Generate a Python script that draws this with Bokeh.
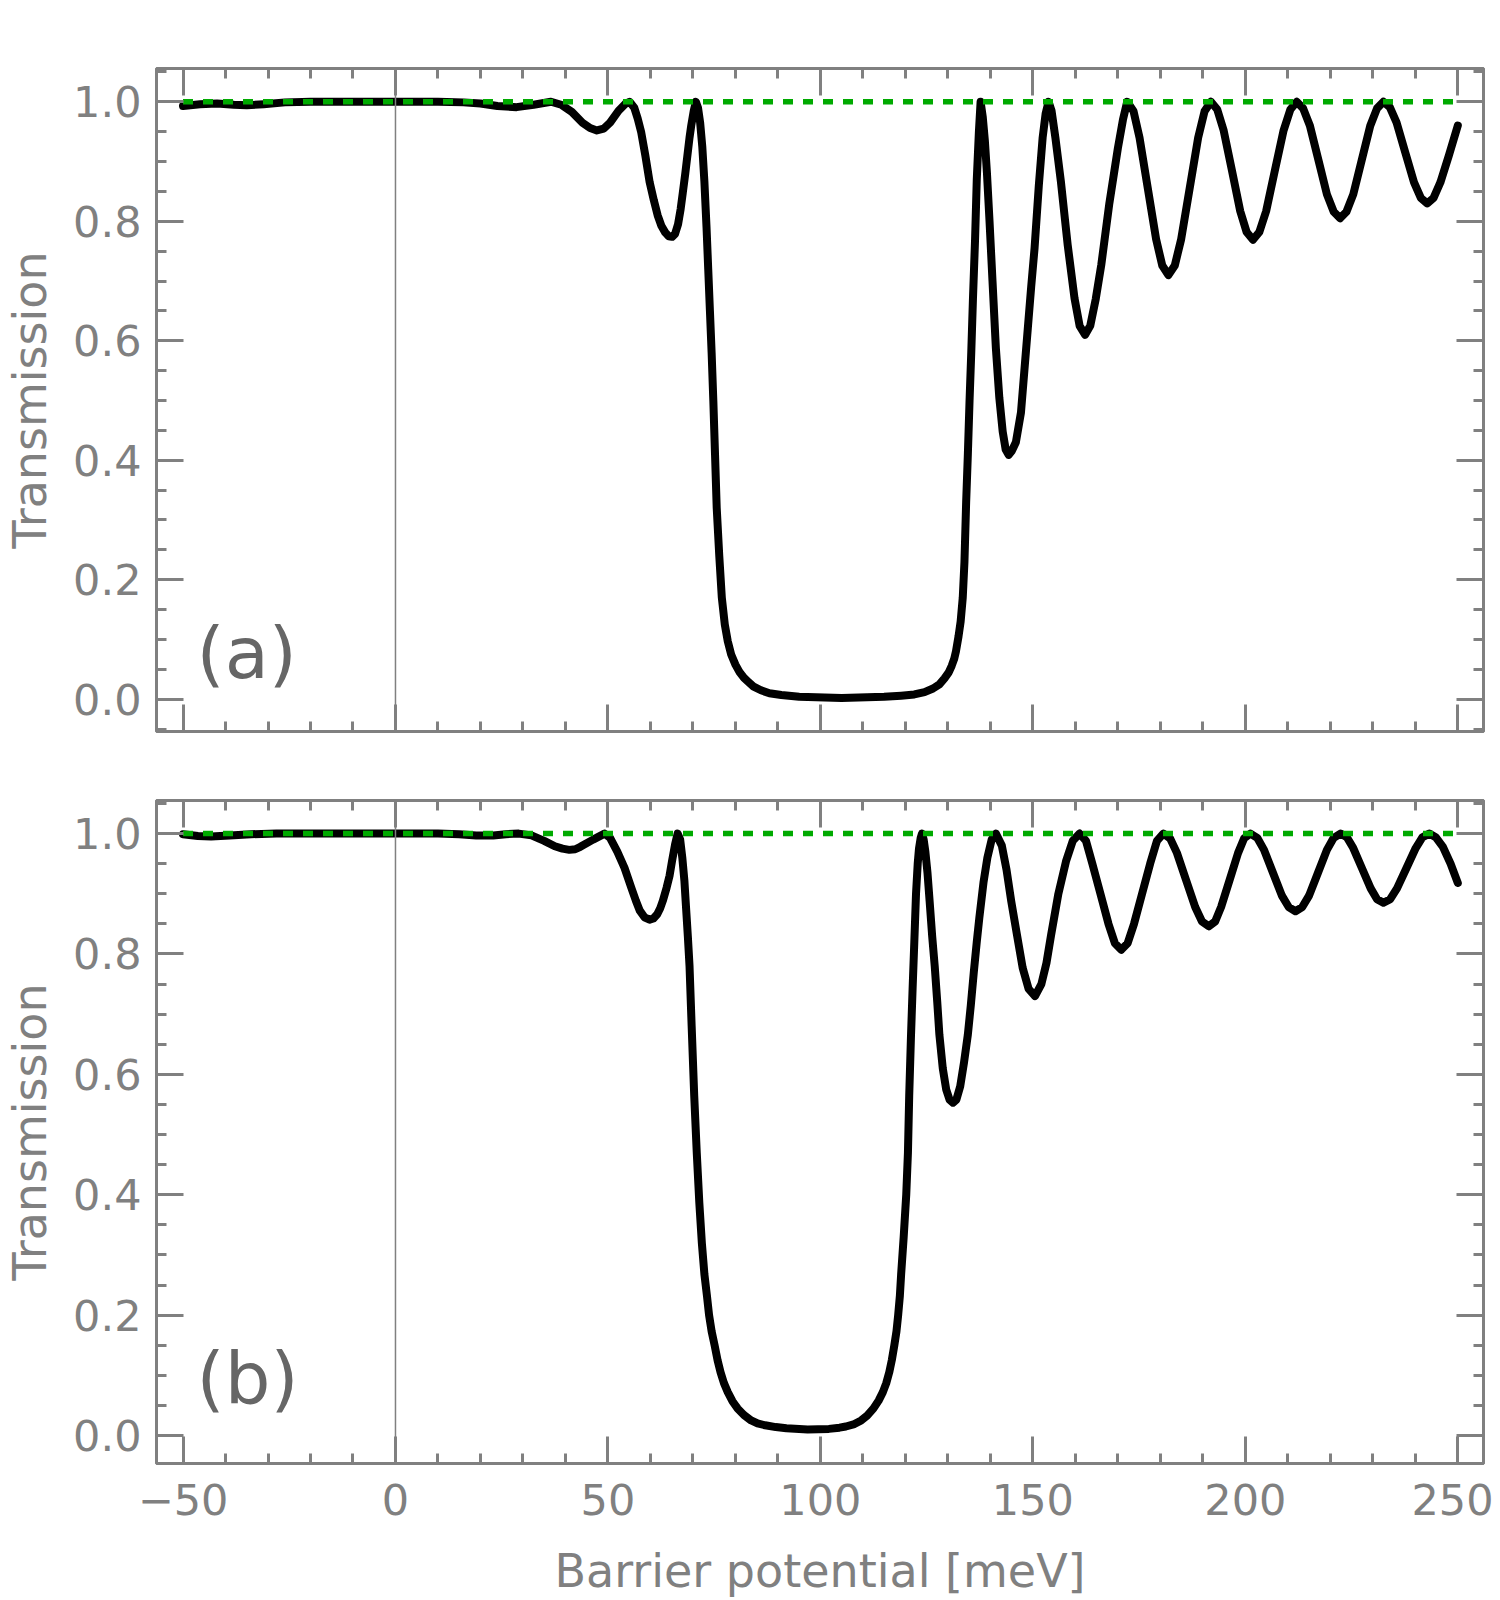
from bokeh.plotting import figure
from bokeh.models import (LinearAxis, SingleIntervalTicker, Span, PrintfTickFormatter,
                          Range1d, Label, CustomJSTickFormatter)
from bokeh.layouts import column
from bokeh.embed import file_html
from bokeh.resources import INLINE

# ---------------- data ----------------
# panel (a): barrier potential [meV] and transmission
x_a = [-50, -46, -42, -38, -35, -31, -26, -20, -10, 0, 10, 16, 20, 24, 28.5, 32.5, 36.6, 39,
       41.5, 44, 45.8, 47.4, 49, 50.5, 52.5, 54, 55.1, 56.2, 57.0, 57.8, 58.8, 59.8, 60.8,
       61.7, 62.6, 63.5, 64.3, 65.1, 65.8, 66.5, 67.1, 67.6, 68.2, 68.7, 69.2, 69.6, 70.2,
       70.7, 71.2, 71.7, 72.2, 72.7, 73.2, 73.6, 74.0, 74.4, 74.8, 75.2, 75.6, 76.2, 76.8,
       77.5, 78.2, 79.0, 80.0, 81.0, 82.0, 82.9, 84.3, 86.0, 88.0, 90.8, 95, 105, 115, 119,
       122.1, 124.5, 126.5, 128.0, 129.2, 130.2, 130.9, 131.5, 131.9, 132.5, 133.0, 133.5,
       133.9, 134.3, 134.7, 135.1, 135.5, 135.9, 136.4, 136.8, 137.3, 137.7, 138.2, 138.7,
       139.2, 139.8, 140.5, 141.3, 142.1, 142.9, 143.6, 144.3, 145.0, 146.0, 147.2, 148.0,
       148.8, 149.6, 150.4, 151.4, 152.3, 153.0, 153.7, 154.4, 155.3, 156.6, 158.2, 159.8,
       161.0, 162.3, 163.5, 164.8, 166.1, 168.0, 170.0, 171.2, 172.2, 173.7, 175.1, 177.05,
       179.0, 180.45, 181.9, 183.4, 184.9, 186.9, 188.9, 190.4, 191.9, 193.4, 194.9, 196.85,
       198.8, 200.3, 201.8, 203.3, 204.9, 206.95, 209.0, 210.6, 212.1, 213.6, 215.2, 217.2,
       219.2, 220.8, 222.3, 223.8, 225.4, 227.4, 229.4, 231.0, 232.5, 234.0, 235.6, 237.65,
       239.7, 241.3, 242.8, 244.3, 245.9, 247.9, 250]
t_a = [0.993, 0.996, 0.997, 0.995, 0.994, 0.996, 0.999, 1.0, 1.0, 1.0, 1.0, 0.999, 0.997,
       0.993, 0.991, 0.995, 1.0, 0.995, 0.983, 0.965, 0.956, 0.952, 0.955, 0.965, 0.985,
       0.996, 1.0, 0.99, 0.972, 0.95, 0.91, 0.866, 0.835, 0.81, 0.792, 0.781, 0.775, 0.774,
       0.779, 0.795, 0.82, 0.847, 0.88, 0.91, 0.94, 0.96, 0.985, 1.0, 0.99, 0.965, 0.925,
       0.866, 0.79, 0.72, 0.65, 0.58, 0.50, 0.41, 0.32, 0.24, 0.17, 0.125, 0.097, 0.075,
       0.058, 0.045, 0.036, 0.03, 0.021, 0.015, 0.01, 0.007, 0.004, 0.002, 0.004, 0.006,
       0.008, 0.012, 0.018, 0.025, 0.035, 0.045, 0.056, 0.068, 0.08, 0.105, 0.13, 0.17,
       0.23, 0.33, 0.41, 0.50, 0.58, 0.67, 0.77, 0.87, 0.95, 1.0, 0.975, 0.935, 0.88, 0.8,
       0.7, 0.587, 0.505, 0.448, 0.418, 0.409, 0.415, 0.43, 0.48, 0.55, 0.62, 0.69, 0.755,
       0.86, 0.94, 0.98, 1.0, 0.985, 0.94, 0.866, 0.76, 0.671, 0.625, 0.61, 0.625, 0.67,
       0.727, 0.83, 0.922, 0.97, 1.0, 0.984, 0.94, 0.855, 0.77, 0.726, 0.71, 0.726, 0.77,
       0.855, 0.94, 0.984, 1.0, 0.987, 0.952, 0.885, 0.817, 0.782, 0.769, 0.782, 0.817,
       0.885, 0.952, 0.987, 1.0, 0.989, 0.96, 0.9025, 0.845, 0.816, 0.805, 0.816, 0.845,
       0.9025, 0.96, 0.989, 1.0, 0.991, 0.965, 0.915, 0.865, 0.839, 0.83, 0.839, 0.865,
       0.91, 0.96]

# panel (b)
x_b = [-50, -46.5, -43.4, -39, -34, -28, -15, 0, 10, 15, 19, 23, 26, 29, 32, 35, 37.5, 39.3,
       40.9, 42.3, 43.5, 46.5, 49.2, 50.5, 52.2, 53.9, 55.5, 56.6, 57.5, 58.6, 59.8, 60.7,
       61.6, 62.3, 62.9, 63.8, 64.5, 65.1, 65.8, 66.4, 67.0, 67.5, 68.0, 68.4, 68.8, 69.2,
       69.7, 70.3, 70.9, 71.5, 72.1, 72.7, 73.3, 73.8, 74.4, 75.1, 75.8, 76.5, 77.3, 78.2,
       79.3, 80.5, 82.0, 83.7, 85.2, 87, 89.5, 92, 97.0, 102, 104.5, 106, 108, 109.6, 111,
       112.5, 113.7, 114.7, 115.5, 116.2, 116.8, 117.4, 117.9, 118.3, 118.7, 119.0, 119.6,
       120.2, 120.6, 120.9, 121.3, 121.7, 122.1, 122.5, 122.9, 123.2, 123.6, 123.9, 124.3,
       124.7, 125.2, 125.7, 126.3, 126.9, 127.5, 128.0, 128.8, 129.6, 130.4, 131.2, 132.0,
       132.9, 133.8, 134.7, 135.4, 136.1, 136.8, 137.4, 138.4, 139.3, 140.3, 141.3, 142.7,
       143.8, 144.9, 146.3, 147.6, 149.0, 150.5, 152.0, 153.2, 154.3, 156.0, 157.8, 159.4,
       161.0, 162.5, 164.0, 165.9, 167.8, 169.3, 170.8, 172.3, 173.8, 175.7, 177.6, 179.2,
       180.7, 182.3, 183.9, 186.05, 188.2, 189.8, 191.4, 192.9, 194.3, 196.3, 198.3, 199.7,
       201.2, 202.8, 204.4, 206.5, 208.6, 210.2, 211.8, 213.4, 215.0, 217.1, 219.2, 220.8,
       222.4, 223.9, 225.4, 227.45, 229.5, 231.0, 232.5, 234.1, 235.7, 237.9, 240.1, 241.7,
       243.3, 244.8, 246.5, 248.3, 250]
t_b = [0.999, 0.996, 0.995, 0.997, 0.999, 1.0, 1.0, 1.0, 1.0, 0.999, 0.997, 0.997, 0.999, 1.0,
       0.997, 0.988, 0.979, 0.975, 0.973, 0.974, 0.978, 0.99, 1.0, 0.993, 0.97, 0.943, 0.91,
       0.888, 0.872, 0.861, 0.857, 0.859, 0.866, 0.876, 0.888, 0.91, 0.93, 0.955, 0.982,
       1.0, 0.99, 0.96, 0.921, 0.875, 0.83, 0.78, 0.68, 0.565, 0.47, 0.387, 0.32, 0.268,
       0.232, 0.20, 0.173, 0.150, 0.125, 0.105, 0.087, 0.072, 0.057, 0.045, 0.034, 0.025,
       0.02, 0.017, 0.014, 0.012, 0.010, 0.011, 0.013, 0.015, 0.019, 0.025, 0.033, 0.045,
       0.058, 0.072, 0.087, 0.105, 0.125, 0.150, 0.173, 0.20, 0.232, 0.268, 0.33, 0.40,
       0.47, 0.565, 0.66, 0.743, 0.82, 0.90, 0.95, 0.975, 0.993, 1.0, 0.99, 0.97, 0.935,
       0.888, 0.83, 0.78, 0.72, 0.666, 0.61, 0.575, 0.558, 0.553, 0.558, 0.58, 0.62, 0.666,
       0.715, 0.77, 0.82, 0.86, 0.92, 0.96, 0.99, 1.0, 0.98, 0.94, 0.888, 0.83, 0.777,
       0.742, 0.73, 0.75, 0.785, 0.832, 0.90, 0.954, 0.988, 1.0, 0.988, 0.95, 0.90, 0.85,
       0.818, 0.807, 0.818, 0.85, 0.90, 0.95, 0.988, 1.0, 0.992, 0.968, 0.923, 0.878,
       0.854, 0.846, 0.854, 0.878, 0.923, 0.968, 0.992, 1.0, 0.993, 0.973, 0.935, 0.897,
       0.878, 0.871, 0.878, 0.897, 0.935, 0.973, 0.993, 1.0, 0.994, 0.976, 0.9425, 0.909,
       0.891, 0.885, 0.891, 0.909, 0.9425, 0.976, 0.994, 1.0, 0.994, 0.978, 0.95, 0.918]

# ideal transmission reference (green dotted)
ref_x = [-50, 250]
ref_y = [1.0, 1.0]

x_limits = (-56.24, 256.05)
y_limits_a = (-0.054, 1.0557)
y_limits_b = (-0.0465, 1.055)
zero_line_x = 0
panel_tags = ["(a)", "(b)"]
tag_pos_a = (-46.8, 0.078)
tag_pos_b = (-46.8, 0.095)

FONT = "DejaVu Sans"
GRAY = "#808080"


def style_axis(ax, interval, minor, show_labels):
    ax.ticker = SingleIntervalTicker(interval=interval, num_minor_ticks=minor)
    ax.axis_line_color = GRAY
    ax.axis_line_width = 3
    ax.major_tick_line_color = GRAY
    ax.major_tick_line_width = 3
    ax.major_tick_in = 27
    ax.major_tick_out = 0
    ax.minor_tick_line_color = GRAY
    ax.minor_tick_line_width = 3
    ax.minor_tick_in = 10
    ax.minor_tick_out = 0
    ax.major_label_text_font = FONT
    ax.major_label_text_color = GRAY
    ax.major_label_text_font_size = "43px"
    ax.axis_label_text_font = FONT
    ax.axis_label_text_color = GRAY
    ax.axis_label_text_font_style = "normal"
    ax.axis_label_text_font_size = "46px"
    if not show_labels:
        ax.formatter = CustomJSTickFormatter(code="return '';")
        ax.major_label_standoff = 0


def make_panel(xs, ts, ylims, tag, tag_pos, show_x_labels, b_top, b_bottom):
    p = figure(frame_width=1327, frame_height=663,
               x_range=Range1d(*x_limits), y_range=Range1d(*ylims),
               output_backend="svg", toolbar_location=None,
               x_axis_location=None, y_axis_location=None,
               min_border_left=147, min_border_right=10,
               min_border_top=b_top, min_border_bottom=b_bottom)
    p.grid.visible = False
    p.outline_line_color = GRAY
    p.outline_line_width = 3
    p.background_fill_color = "white"
    p.border_fill_color = "white"

    left = LinearAxis(axis_label="Transmission")
    style_axis(left, 0.2, 4, True)
    left.formatter = PrintfTickFormatter(format="%.1f")
    left.major_label_standoff = 15
    left.axis_label_standoff = 13
    p.add_layout(left, "left")

    right = LinearAxis()
    style_axis(right, 0.2, 4, False)
    p.add_layout(right, "right")

    top = LinearAxis()
    style_axis(top, 50, 5, False)
    p.add_layout(top, "above")

    bottom = LinearAxis(axis_label="Barrier potential [meV]" if show_x_labels else None)
    style_axis(bottom, 50, 5, show_x_labels)
    if show_x_labels:
        bottom.formatter = CustomJSTickFormatter(
            code="return tick < 0 ? '\u2212' + Math.abs(tick) : String(tick);")
        bottom.major_label_standoff = 20
        bottom.axis_label_standoff = 26
    p.add_layout(bottom, "below")

    p.add_layout(Span(location=zero_line_x, dimension="height",
                      line_color=GRAY, line_width=1.5))

    p.line(xs, ts, line_color="black", line_width=8, line_join="round", line_cap="round")
    p.line(ref_x, ref_y, line_color="#00aa00", line_width=5.5,
           line_dash="10 10", line_cap="butt")

    p.add_layout(Label(x=tag_pos[0], y=tag_pos[1], text=tag, text_font=FONT,
                       text_font_size="72px", text_color="#666666",
                       text_baseline="alphabetic"))
    return p


p1 = make_panel(x_a, t_a, y_limits_a, panel_tags[0], tag_pos_a, False, 68, 34)
p2 = make_panel(x_b, t_b, y_limits_b, panel_tags[1], tag_pos_b, True, 35, 128)

layout = column(p1, p2, spacing=0)
open("out.html", "w").write(file_html(layout, INLINE))
